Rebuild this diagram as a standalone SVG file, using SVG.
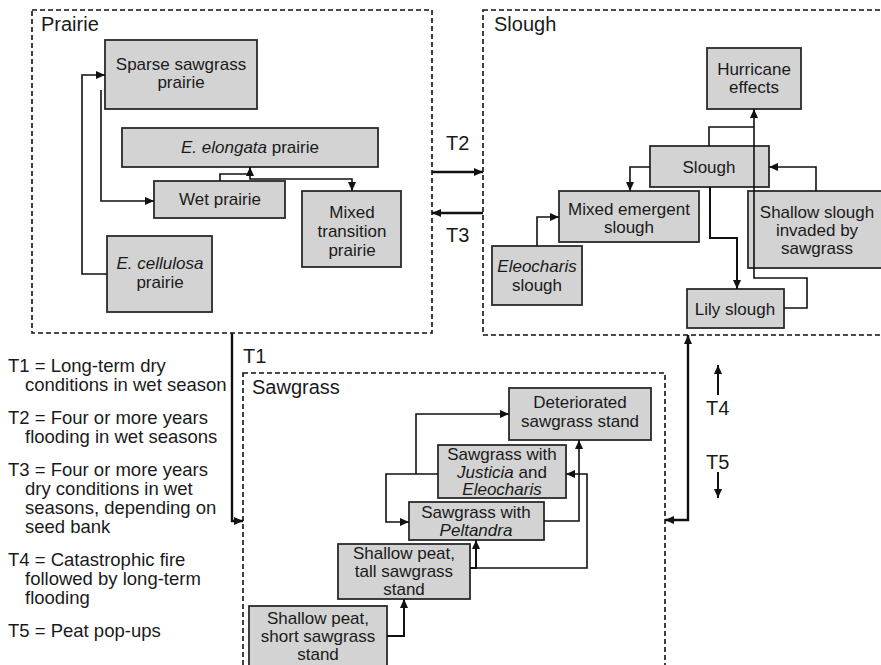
<svg xmlns="http://www.w3.org/2000/svg" width="881" height="665" viewBox="0 0 881 665">
<defs>
<marker id="ah" viewBox="0 0 9 8" refX="9" refY="4" markerWidth="9" markerHeight="8" markerUnits="userSpaceOnUse" orient="auto-start-reverse">
<path d="M0,0 L9,4 L0,8 z" fill="#111"/>
</marker>
<style>
.region{fill:none;stroke:#111;stroke-width:1.6;stroke-dasharray:5,3}
.box{fill:#d3d3d3;stroke:#2a2a2a;stroke-width:1.8}
.t{font-family:"Liberation Sans",Arial,sans-serif;font-size:17px;fill:#1a1a1a;text-anchor:middle}
.i{font-style:italic}
.rl{font-family:"Liberation Sans",Arial,sans-serif;font-size:20px;fill:#1a1a1a}
.lg{font-family:"Liberation Sans",Arial,sans-serif;font-size:18.5px;fill:#1a1a1a}
.c{fill:none;stroke:#111;stroke-width:1.6}
.ca{fill:none;stroke:#111;stroke-width:1.6;marker-end:url(#ah)}
.th{fill:none;stroke:#111;stroke-width:2.4;marker-end:url(#ah)}
</style>
</defs>
<rect width="881" height="665" fill="#fff"/>

<g id="regions">
<rect class="region" x="32" y="10" width="400" height="323"/>
<rect class="region" x="483" y="10" width="420" height="325"/>
<rect class="region" x="243" y="373" width="422" height="320"/>
<text class="rl" x="41" y="31">Prairie</text>
<text class="rl" x="494" y="31">Slough</text>
<text class="rl" x="252" y="394">Sawgrass</text>
</g>

<g id="sparse-sawgrass-prairie">
<rect class="box" x="105" y="40" width="152" height="69"/>
<text class="t" x="181" y="70">Sparse sawgrass</text>
<text class="t" x="181" y="88">prairie</text>
</g>
<g id="e-elongata-prairie">
<rect class="box" x="122" y="128" width="256" height="39"/>
<text class="t" x="250" y="153"><tspan class="i">E. elongata</tspan> prairie</text>
</g>
<g id="wet-prairie">
<rect class="box" x="154" y="181" width="131" height="37"/>
<text class="t" x="220" y="205">Wet prairie</text>
</g>
<g id="mixed-transition-prairie">
<rect class="box" x="302" y="191" width="99" height="76"/>
<text class="t" x="352" y="218">Mixed</text>
<text class="t" x="352" y="237">transition</text>
<text class="t" x="352" y="256">prairie</text>
</g>
<g id="e-cellulosa-prairie">
<rect class="box" x="107" y="236" width="105" height="76"/>
<text class="t i" x="160" y="269">E. cellulosa</text>
<text class="t" x="160" y="288">prairie</text>
</g>

<g id="hurricane-effects">
<rect class="box" x="707" y="48" width="94" height="61"/>
<text class="t" x="754" y="75">Hurricane</text>
<text class="t" x="754" y="93">effects</text>
</g>
<g id="slough">
<rect class="box" x="650" y="146" width="119" height="41"/>
<text class="t" x="709" y="173">Slough</text>
</g>
<g id="mixed-emergent-slough">
<rect class="box" x="559" y="191" width="140" height="51"/>
<text class="t" x="629" y="215">Mixed emergent</text>
<text class="t" x="629" y="233">slough</text>
</g>
<g id="eleocharis-slough">
<rect class="box" x="492" y="246" width="90" height="59"/>
<text class="t i" x="537" y="272">Eleocharis</text>
<text class="t" x="537" y="291">slough</text>
</g>
<g id="shallow-slough">
<rect class="box" x="748" y="191" width="138" height="77"/>
<text class="t" x="817" y="218">Shallow slough</text>
<text class="t" x="817" y="236">invaded by</text>
<text class="t" x="817" y="254">sawgrass</text>
</g>
<g id="lily-slough">
<rect class="box" x="687" y="289" width="97" height="39"/>
<text class="t" x="735" y="315">Lily slough</text>
</g>

<g id="deteriorated-sawgrass">
<rect class="box" x="509" y="388" width="142" height="52"/>
<text class="t" x="580" y="408">Deteriorated</text>
<text class="t" x="580" y="427">sawgrass stand</text>
</g>
<g id="sawgrass-justicia">
<rect class="box" x="438" y="445" width="128" height="53"/>
<text class="t" x="502" y="460">Sawgrass with</text>
<text class="t" x="502" y="478"><tspan class="i">Justicia</tspan> and</text>
<text class="t i" x="502" y="495">Eleocharis</text>
</g>
<g id="sawgrass-peltandra">
<rect class="box" x="409" y="502" width="135" height="38"/>
<text class="t" x="476" y="518">Sawgrass with</text>
<text class="t i" x="476" y="536">Peltandra</text>
</g>
<g id="tall-sawgrass">
<rect class="box" x="338" y="544" width="132" height="55"/>
<text class="t" x="404" y="559">Shallow peat,</text>
<text class="t" x="404" y="577">tall sawgrass</text>
<text class="t" x="404" y="595">stand</text>
</g>
<g id="short-sawgrass">
<rect class="box" x="249" y="606" width="138" height="70"/>
<text class="t" x="318" y="624">Shallow peat,</text>
<text class="t" x="318" y="642">short sawgrass</text>
<text class="t" x="318" y="660">stand</text>
</g>

<g id="connectors">
<path class="ca" d="M107,274 H82 V75 H105"/>
<path class="ca" d="M101,90 V201 H154"/>
<path class="ca" d="M220,181 V174 H250 V167"/>
<path class="ca" d="M250,167 V179 H352 V191"/>
<path class="ca" d="M650,167 H630 V191"/>
<path class="ca" d="M537,246 V217 H559"/>
<path class="c" d="M709,146 V127 H754"/>
<path class="ca" d="M784,308 H807 V278 H754 V109"/>
<path class="ca" d="M816,191 V167 H769"/>
<path class="ca" d="M710,187 V238 H737 V289" style="stroke-width:2"/>
<path class="th" d="M432,172 H483"/>
<path class="th" d="M483,213 H432"/>
<path class="th" d="M232,333 V521 H243"/>
<path class="th" d="M688,335 V520 H665" style="marker-start:url(#ah)"/>
<path class="ca" d="M718,395 V365" style="stroke-width:2"/>
<path class="ca" d="M718,472 V498" style="stroke-width:2"/>
<path class="ca" d="M387,636 H404 V599" style="stroke-width:2"/>
<path class="ca" d="M470,568 H476 V540" style="stroke-width:2"/>
<path class="ca" d="M476,568 H587 V474 H566"/>
<path class="ca" d="M544,521 H579 V440"/>
<path class="ca" d="M438,474 H386 V522 H409"/>
<path class="ca" d="M416,474 V414 H509"/>
</g>

<g id="labels">
<text class="rl" x="446" y="150">T2</text>
<text class="rl" x="446" y="242">T3</text>
<text class="rl" x="243" y="363">T1</text>
<text class="rl" x="706" y="415">T4</text>
<text class="rl" x="706" y="469">T5</text>
</g>

<g id="legend">
<text class="lg" x="8" y="372">T1 = Long-term dry</text>
<text class="lg" x="25" y="391">conditions in wet season</text>
<text class="lg" x="8" y="424">T2 = Four or more years</text>
<text class="lg" x="25" y="443">flooding in wet seasons</text>
<text class="lg" x="8" y="476">T3 = Four or more years</text>
<text class="lg" x="25" y="495">dry conditions in wet</text>
<text class="lg" x="25" y="514">seasons, depending on</text>
<text class="lg" x="25" y="533">seed bank</text>
<text class="lg" x="8" y="566">T4 = Catastrophic fire</text>
<text class="lg" x="25" y="585">followed by long-term</text>
<text class="lg" x="25" y="604">flooding</text>
<text class="lg" x="8" y="637">T5 = Peat pop-ups</text>
</g>
</svg>
